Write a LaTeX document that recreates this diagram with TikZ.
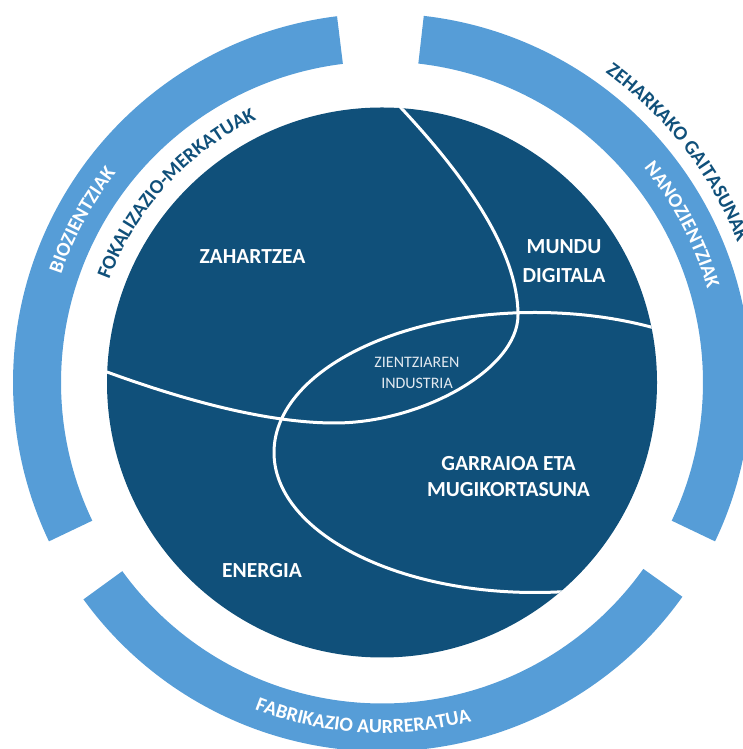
\documentclass[tikz,border=0pt]{standalone}
\usepackage{fontspec}
\setmainfont{Carlito}
\usetikzlibrary{decorations.text}
\definecolor{darkblue}{HTML}{10507A}
\definecolor{ringblue}{HTML}{569DD7}
\definecolor{softwhite}{HTML}{E2E9F0}
\newcommand{\ringfont}{\fontsize{20}{24}\selectfont\bfseries}
\begin{document}
\begin{tikzpicture}[x=1pt,y=1pt,
  ringseg/.style={fill=ringblue},
  sep/.style={draw=white, line width=3pt},
  biglabel/.style={text=white, font=\fontsize{21.5}{28}\selectfont\bfseries, align=center, inner sep=0pt},
  smalllabel/.style={text=softwhite, font=\fontsize{16}{21}\selectfont, align=center, inner sep=0pt}]
\useasboundingbox (0,0) rectangle (743,749);
\clip (0,0) rectangle (743,749);
\begin{scope}[shift={(382,366.5)}]
  % outer ring segments
  \fill[ringseg] (97:369pt) arc[start angle=97,end angle=205.5,radius=369pt] -- (205.5:321pt) arc[start angle=205.5,end angle=97,radius=321pt] -- cycle;
  \fill[ringseg] (-25.5:369pt) arc[start angle=-25.5,end angle=83.5,radius=369pt] -- (83.5:321pt) arc[start angle=83.5,end angle=-25.5,radius=321pt] -- cycle;
  \fill[ringseg] (216:369pt) arc[start angle=216,end angle=324.5,radius=369pt] -- (324.5:321pt) arc[start angle=324.5,end angle=216,radius=321pt] -- cycle;
  % central disc
  \fill[darkblue] (0,0) circle[radius=275pt];
  % ring texts
  \path[decorate, decoration={text along path, text align=center, text color=white, text={|\ringfont|BIOZIENTZIAK}}]
    (191.6:338.5pt) arc[start angle=191.6,end angle=111.6,radius=338.5pt];
  \path[decorate, decoration={text along path, text align=center, text color=darkblue, text={|\ringfont|FOKALIZAZIO-MERKATUAK}}]
    (187.4:291.5pt) arc[start angle=187.4,end angle=87.4,radius=291.5pt];
  \path[decorate, decoration={text along path, text align=center, text color=white, text={|\ringfont|NANOZIENTZIAK}}]
    (67.7:338.5pt) arc[start angle=67.7,end angle=-12.3,radius=338.5pt];
  \path[decorate, decoration={text along path, text align=left, text color=darkblue, text={|\ringfont|ZEHARKAKO GAITASUNAK}}]
    (54.2:382pt) arc[start angle=54.2,end angle=-20,radius=382pt];
  \path[decorate, decoration={text along path, text align=center, text color=white, text={|\ringfont|FABRIKAZIO AURRERATUA}}]
    (216.75:350.5pt) arc[start angle=216.75,end angle=316.75,radius=350.5pt];
\end{scope}
% dividing curves
\begin{scope}
  \clip (382,366.5) circle[radius=275pt];
  \draw[sep] (535,296.5) ellipse[x radius=261pt, y radius=140pt];
  \draw[sep] (390,653) -- (403,639) .. controls (455,583) and (518,504) .. (518,434)
    .. controls (518,379) and (420,326) .. (335,326)
    .. controls (260,326) and (170,354) .. (107,377) -- (90,383);
\end{scope}
% labels
\node[biglabel] (zah) at (252.5,492) {ZAHARTZEA};
\node[biglabel] (mundu) at (564,487.5) {MUNDU\\[1pt]DIGITALA};
\node[biglabel] (garraio) at (508.5,272.25) {GARRAIOA ETA\\[-1.5pt]MUGIKORTASUNA};
\node[biglabel] (energia) at (262,178) {ENERGIA};
\node[smalllabel] (zient) at (417,376.5) {ZIENTZIAREN\\INDUSTRIA};
\end{tikzpicture}
\end{document}
